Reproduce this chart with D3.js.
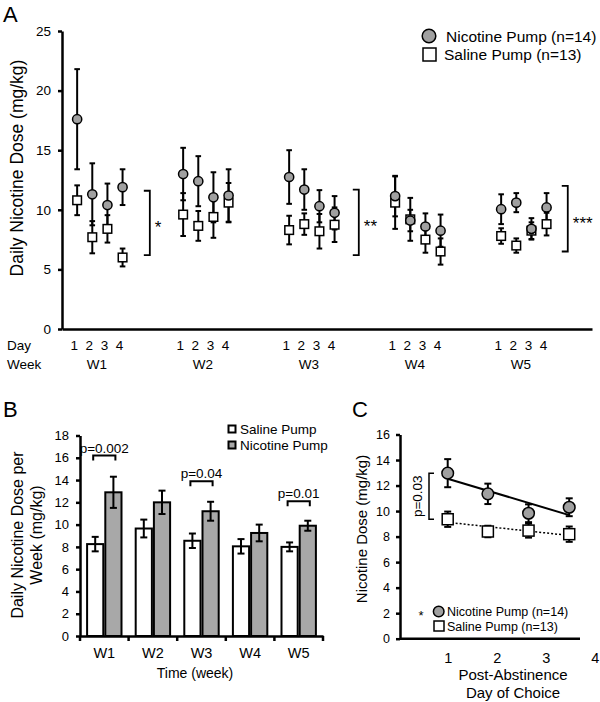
<!DOCTYPE html>
<html><head><meta charset="utf-8">
<script src="https://cdn.jsdelivr.net/npm/d3@7"></script>
<style>
body{margin:0;background:#fff}
svg{display:block}
text{font-family:"Liberation Sans",Arial,Helvetica,sans-serif;fill:#000}
</style>
</head><body>
<svg id="chart" width="600" height="702"></svg>
<script>
// ---------------- DATA ----------------
// Panel A: daily dose, 5 weeks x 4 days
const weekLabels = ["W1","W2","W3","W4","W5"];
const dayLabels = ["1","2","3","4"];
const nicotineA = [17.6,11.3,10.4,11.9, 13.0,12.4,11.05,11.2, 12.75,11.7,10.3,9.75, 11.15,9.1,8.6,8.25, 10.05,10.6,8.4,10.2];
const nicotineAErr = [4.2,2.6,1.8,1.5, 2.2,2.1,2.1,2.2, 2.25,1.7,1.35,1.4, 1.7,0.9,1.1,1.35, 1.25,0.8,0.9,1.2];
const salineA = [10.8,7.7,8.4,6.0, 9.6,8.65,9.4,10.6, 8.3,8.8,8.2,8.75, 10.6,9.2,7.5,6.5, 7.8,7.0,8.25,8.8];
const salineAErr = [1.25,1.35,1.15,0.75, 1.8,1.25,1.75,1.65, 1.2,0.9,1.45,1.45, 2.2,1.8,1.1,1.1, 0.65,0.6,0.7,0.95];
const sigWeeksA = [0, 2, 4];
const sigPosA = [4.8, 18.6, 32.4];
const sigTopA = [11.6, 11.7, 12.0];
const sigBottomA = [6.2, 6.2, 6.5];
const sigLabelsA = ["*", "**", "***"];
const yTicksA = [0,5,10,15,20,25];

// Panel B: weekly means
const weeksB = ["W1","W2","W3","W4","W5"];
const salineB = [8.25, 9.65, 8.55, 8.05, 8.0];
const salineBErr = [0.65, 0.8, 0.65, 0.65, 0.4];
const nicotineB = [12.9, 12.0, 11.2, 9.25, 9.9];
const nicotineBErr = [1.4, 1.05, 0.85, 0.75, 0.45];
const pWeeksB = ["W1","W3","W5"];
const pLevelsB = [16.2, 13.9, 12.1];
const pLabelsB = ["p=0.002","p=0.04","p=0.01"];
const yTicksB = [0,2,4,6,8,10,12,14,16,18];

// Panel C: post-abstinence day of choice
const daysC = [1, 1.82, 2.65, 3.48];
const nicotineC = [12.97, 11.35, 9.83, 10.3];
const nicotineCErr = [1.1, 0.8, 0.7, 0.7];
const salineC = [9.36, 8.4, 8.47, 8.19];
const salineCErr = [0.6, 0.45, 0.55, 0.6];
const xTicksC = [1,2,3,4];
const yTicksC = [0,2,4,6,8,10,12,14,16];
const pBracketC = [12.97, 9.36];
const pLabelC = "p=0.03";

// ---------------- STYLE ----------------
const GREY = "#a0a0a0";
const BARGREY = "#a8a8a8";
const svg = d3.select("#chart");

function styleAxis(g, w, fs){
  g.select(".domain").attr("stroke","#000").attr("stroke-width",w);
  g.selectAll(".tick line").attr("stroke","#000").attr("stroke-width",w);
  g.selectAll(".tick text").attr("font-size",fs).attr("fill","#000")
   .style("font-family",'"Liberation Sans",Arial,Helvetica,sans-serif');
}
function errBar(g, x, y0, y1, cap, w){
  g.append("line").attr("x1",x).attr("x2",x).attr("y1",y0).attr("y2",y1).attr("stroke","#000").attr("stroke-width",w);
  g.append("line").attr("x1",x-cap).attr("x2",x+cap).attr("y1",y0).attr("y2",y0).attr("stroke","#000").attr("stroke-width",w);
  g.append("line").attr("x1",x-cap).attr("x2",x+cap).attr("y1",y1).attr("y2",y1).attr("stroke","#000").attr("stroke-width",w);
}

// ---------------- PANEL A ----------------
svg.append("text").attr("x",3).attr("y",22).attr("font-size",22).text("A");
const xA = d3.scaleLinear().domain([-1, 34]).range([62, 592]);
const yA = d3.scaleLinear().domain([0, 25]).range([329, 31]);
const idxA = i => Math.floor(i/4)*7 + (i%4);

const gA = svg.append("g");
const ayA = gA.append("g").attr("transform","translate(62,0)")
  .call(d3.axisLeft(yA).tickValues(yTicksA).tickSize(4).tickSizeOuter(0).tickPadding(7));
styleAxis(ayA, 2.5, 13.5);
const axA = gA.append("g").attr("transform","translate(0,329)")
  .call(d3.axisBottom(xA).tickValues([]).tickSizeOuter(0));
styleAxis(axA, 2.5, 13);

svg.append("text").attr("transform","translate(23,168) rotate(-90)")
  .attr("text-anchor","middle").attr("font-size",17.5).text("Daily Nicotine Dose (mg/kg)");

// error bars
const ebA = gA.append("g");
salineA.forEach((v,i)=>errBar(ebA, xA(idxA(i)), yA(v+salineAErr[i]), yA(v-salineAErr[i]), 2.8, 2));
nicotineA.forEach((v,i)=>errBar(ebA, xA(idxA(i)), yA(v+nicotineAErr[i]), yA(v-nicotineAErr[i]), 2.8, 2));
// markers
gA.append("g").selectAll("rect").data(salineA).join("rect")
  .attr("x",(d,i)=>xA(idxA(i))-4.3).attr("y",d=>yA(d)-4.3).attr("width",8.6).attr("height",8.6)
  .attr("fill","#fff").attr("stroke","#000").attr("stroke-width",1.5);
gA.append("g").selectAll("circle").data(nicotineA).join("circle")
  .attr("cx",(d,i)=>xA(idxA(i))).attr("cy",d=>yA(d)).attr("r",4.6)
  .attr("fill",GREY).attr("stroke","#000").attr("stroke-width",1.5);

// significance brackets
sigWeeksA.forEach((w,k)=>{
  const x = xA(sigPosA[k]);
  const y0 = yA(sigTopA[k]), y1 = yA(sigBottomA[k]);
  gA.append("path").attr("d",`M${x-6},${y0}H${x}V${y1}H${x-6}`)
    .attr("fill","none").attr("stroke","#000").attr("stroke-width",1.8);
  gA.append("text").attr("x",x+5).attr("y",(y0+y1)/2+10).attr("font-size",17).text(sigLabelsA[k]);
});

// day / week labels
gA.append("text").attr("x",7).attr("y",350).attr("font-size",13.5).text("Day");
gA.append("text").attr("x",7).attr("y",369).attr("font-size",13.5).text("Week");
weekLabels.forEach((w,wi)=>{
  dayLabels.forEach((d,di)=>{
    gA.append("text").attr("x",xA(wi*7+di)-3).attr("y",350).attr("text-anchor","middle").attr("font-size",13.5).text(d);
  });
  gA.append("text").attr("x",xA(wi*7+1.5)-3).attr("y",369).attr("text-anchor","middle").attr("font-size",13.5).text(w);
});

// legend A
gA.append("circle").attr("cx",429).attr("cy",36).attr("r",6.8).attr("fill",GREY).attr("stroke","#000").attr("stroke-width",1.5);
gA.append("text").attr("x",446).attr("y",41.5).attr("font-size",15.5).text("Nicotine Pump (n=14)");
gA.append("rect").attr("x",423).attr("y",48).attr("width",13).attr("height",13).attr("fill","#fff").attr("stroke","#000").attr("stroke-width",1.5);
gA.append("text").attr("x",444).attr("y",60).attr("font-size",15.5).text("Saline Pump (n=13)");

// ---------------- PANEL B ----------------
svg.append("text").attr("x",3).attr("y",417).attr("font-size",22).text("B");
const x0B = d3.scaleBand().domain(weeksB).range([80, 323]).padding(0);
const x1B = d3.scaleBand().domain(["saline","nicotine"]).range([0, x0B.bandwidth()]).paddingInner(0.11).paddingOuter(0.39);
const yB = d3.scaleLinear().domain([0, 18]).range([636, 435.5]);
const gB = svg.append("g");

// bars
const barG = gB.append("g");
barG.selectAll("rect.s").data(salineB).join("rect").attr("class","s")
  .attr("x",(d,i)=>x0B(weeksB[i])+x1B("saline")).attr("y",d=>yB(d))
  .attr("width",x1B.bandwidth()).attr("height",d=>yB(0)-yB(d))
  .attr("fill","#fff").attr("stroke","#000").attr("stroke-width",2);
barG.selectAll("rect.n").data(nicotineB).join("rect").attr("class","n")
  .attr("x",(d,i)=>x0B(weeksB[i])+x1B("nicotine")).attr("y",d=>yB(d))
  .attr("width",x1B.bandwidth()).attr("height",d=>yB(0)-yB(d))
  .attr("fill",BARGREY).attr("stroke","#000").attr("stroke-width",2);
salineB.forEach((v,i)=>errBar(gB, x0B(weeksB[i])+x1B("saline")+x1B.bandwidth()/2, yB(v+salineBErr[i]), yB(v-salineBErr[i]), 3.5, 2));
nicotineB.forEach((v,i)=>errBar(gB, x0B(weeksB[i])+x1B("nicotine")+x1B.bandwidth()/2, yB(v+nicotineBErr[i]), yB(v-nicotineBErr[i]), 3.5, 2));

const ayB = gB.append("g").attr("transform","translate(80,0)")
  .call(d3.axisLeft(yB).tickValues(yTicksB).tickSize(4).tickSizeOuter(0).tickPadding(7));
styleAxis(ayB, 2.5, 13);
const axB = gB.append("g").attr("transform","translate(0,636)")
  .call(d3.axisBottom(x0B).tickSize(0).tickSizeOuter(0).tickPadding(12));
styleAxis(axB, 2.5, 14.5);
// boundary ticks
const bounds = weeksB.map(w=>x0B(w)).concat([x0B.range()[1]]);
gB.append("g").selectAll("line").data(bounds).join("line")
  .attr("x1",d=>d).attr("x2",d=>d).attr("y1",636).attr("y2",641).attr("stroke","#000").attr("stroke-width",2.5);

gB.append("text").attr("x",195).attr("y",678).attr("text-anchor","middle").attr("font-size",14).text("Time (week)");
gB.append("text").attr("transform","translate(23,535) rotate(-90)").attr("text-anchor","middle").attr("font-size",16).text("Daily Nicotine Dose per");
gB.append("text").attr("transform","translate(42,535) rotate(-90)").attr("text-anchor","middle").attr("font-size",16).text("Week (mg/kg)");

// p brackets
pWeeksB.forEach((w,k)=>{
  const xs = x0B(w)+x1B("saline")+x1B.bandwidth()/2-2;
  const xn = x0B(w)+x1B("nicotine")+x1B.bandwidth()/2+2;
  const y = yB(pLevelsB[k]);
  gB.append("path").attr("d",`M${xs},${y+5}V${y}H${xn}V${y+5}`).attr("fill","none").attr("stroke","#000").attr("stroke-width",2);
  gB.append("text").attr("x",(xs+xn)/2).attr("y",y-3).attr("text-anchor","middle").attr("font-size",13.5).text(pLabelsB[k]);
});

// legend B
gB.append("rect").attr("x",228.5).attr("y",425.5).attr("width",7).attr("height",7).attr("fill","#fff").attr("stroke","#000").attr("stroke-width",2);
gB.append("text").attr("x",240).attr("y",434).attr("font-size",13.5).text("Saline Pump");
gB.append("rect").attr("x",228.5).attr("y",441.5).attr("width",7).attr("height",7).attr("fill",BARGREY).attr("stroke","#000").attr("stroke-width",2);
gB.append("text").attr("x",240).attr("y",450).attr("font-size",13.5).text("Nicotine Pump");

// ---------------- PANEL C ----------------
svg.append("text").attr("x",352).attr("y",417).attr("font-size",22).text("C");
const xC = d3.scaleLinear().domain([0, 3.7]).range([398.7, 580]);
const yC = d3.scaleLinear().domain([0, 16]).range([638.7, 434.5]);
const gC = svg.append("g");

const ayC = gC.append("g").attr("transform","translate(400,0)")
  .call(d3.axisLeft(yC).tickValues(yTicksC).tickSize(4).tickSizeOuter(0).tickPadding(6));
styleAxis(ayC, 2.5, 12.5);
const axC = gC.append("g").attr("transform","translate(0,638.7)")
  .call(d3.axisBottom(xC).tickValues(xTicksC).tickFormat(d3.format("d")).tickSize(0).tickSizeOuter(0).tickPadding(14));
axC.select(".domain").attr("d","M400,0H580");
styleAxis(axC, 2.5, 14.5);

gC.append("text").attr("transform","translate(367,529) rotate(-90)").attr("text-anchor","middle").attr("font-size",15).text("Nicotine Dose (mg/kg)");
gC.append("text").attr("x",513).attr("y",680).attr("text-anchor","middle").attr("font-size",15).text("Post-Abstinence");
gC.append("text").attr("x",513).attr("y",698).attr("text-anchor","middle").attr("font-size",15).text("Day of Choice");

// regression lines
function fit(xs, ys){
  const mx = d3.mean(xs), my = d3.mean(ys);
  const b = d3.sum(xs.map((x,i)=>(x-mx)*(ys[i]-my))) / d3.sum(xs.map(x=>(x-mx)*(x-mx)));
  return x => my + b*(x-mx);
}
const fN = fit(daysC, nicotineC), fS = fit(daysC, salineC);
const xr = d3.extent(daysC);
gC.append("line").attr("x1",xC(xr[0])).attr("x2",xC(xr[1])).attr("y1",yC(fN(xr[0]))).attr("y2",yC(fN(xr[1])))
  .attr("stroke","#000").attr("stroke-width",2);
gC.append("line").attr("x1",xC(xr[0])).attr("x2",xC(xr[1])).attr("y1",yC(fS(xr[0]))).attr("y2",yC(fS(xr[1])))
  .attr("stroke","#000").attr("stroke-width",1.5).attr("stroke-dasharray","2,2");

salineC.forEach((v,i)=>errBar(gC, xC(daysC[i]), yC(v+salineCErr[i]), yC(v-salineCErr[i]), 3.5, 2));
nicotineC.forEach((v,i)=>errBar(gC, xC(daysC[i]), yC(v+nicotineCErr[i]), yC(v-nicotineCErr[i]), 3.5, 2));
gC.append("g").selectAll("rect").data(salineC).join("rect")
  .attr("x",(d,i)=>xC(daysC[i])-5.5).attr("y",d=>yC(d)-5.5).attr("width",11).attr("height",11)
  .attr("fill","#fff").attr("stroke","#000").attr("stroke-width",1.5);
gC.append("g").selectAll("circle").data(nicotineC).join("circle")
  .attr("cx",(d,i)=>xC(daysC[i])).attr("cy",d=>yC(d)).attr("r",5.8)
  .attr("fill",GREY).attr("stroke","#000").attr("stroke-width",1.5);

// p bracket C
{
  const xb = 429, y0 = yC(pBracketC[0]), y1 = yC(pBracketC[1]);
  gC.append("path").attr("d",`M${xb+5},${y0}H${xb}V${y1}H${xb+5}`).attr("fill","none").attr("stroke","#000").attr("stroke-width",1.5);
  gC.append("text").attr("transform",`translate(421.5,${(y0+y1)/2}) rotate(-90)`).attr("text-anchor","middle").attr("font-size",13.5).text(pLabelC);
}

// legend C
gC.append("text").attr("x",418.5).attr("y",620).attr("font-size",13).text("*");
gC.append("circle").attr("cx",438.7).attr("cy",611.5).attr("r",5.3).attr("fill",GREY).attr("stroke","#000").attr("stroke-width",1.5);
gC.append("text").attr("x",447).attr("y",616).attr("font-size",12.5).text("Nicotine Pump (n=14)");
gC.append("rect").attr("x",434).attr("y",621).attr("width",10).attr("height",10).attr("fill","#fff").attr("stroke","#000").attr("stroke-width",1.5);
gC.append("text").attr("x",447).attr("y",630.5).attr("font-size",12.5).text("Saline Pump (n=13)");
</script>
</body></html>
